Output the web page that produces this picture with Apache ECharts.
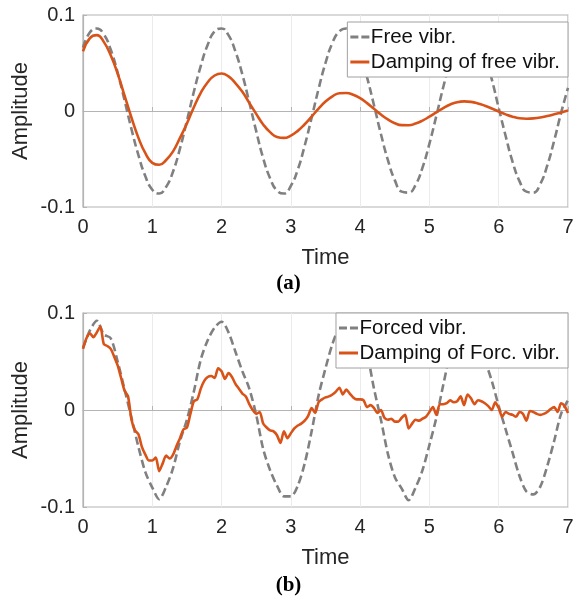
<!DOCTYPE html>
<html>
<head>
<meta charset="utf-8">
<script src="https://cdn.jsdelivr.net/npm/echarts@6/dist/echarts.min.js"></script>
<style>
html,body{margin:0;padding:0;background:#fff;}
#chart{width:577px;height:600px;}
</style>
</head>
<body>
<div id="chart"></div>
<script>
// ---- data ----
const seriesNamesA = ['Free vibr.', 'Damping of free vibr.'];
const seriesNamesB = ['Forced vibr.', 'Damping of Forc. vibr.'];
const xTickLabels = ['0','1','2','3','4','5','6','7'];
const yTickLabels = ['-0.1','0','0.1'];

// (a) sampled every 0.1 time unit, t = 0 ... 7
const stepA = 0.1;
const freeVibr = [
  0.066, 0.082, 0.086, 0.080, 0.064, 0.040, 0.011, -0.019, -0.046, -0.068,
  -0.082, -0.086, -0.079, -0.063, -0.039, -0.010, 0.020, 0.047, 0.069, 0.083,
  0.086, 0.079, 0.062, 0.038, 0.009, -0.021, -0.049, -0.070, -0.083, -0.086,
  -0.078, -0.061, -0.036, -0.007, 0.023, 0.050, 0.071, 0.083, 0.086, 0.077,
  0.060, 0.035, 0.006, -0.024, -0.051, -0.072, -0.084, -0.085, -0.077, -0.059,
  -0.034, -0.005, 0.025, 0.052, 0.072, 0.084, 0.085, 0.076, 0.058, 0.033,
  0.003, -0.026, -0.053, -0.073, -0.084, -0.085, -0.076, -0.057, -0.031, -0.002,
  0.024
];
const dampFree = [
  0.062, 0.076, 0.079, 0.072, 0.058, 0.039, 0.016, -0.007, -0.028, -0.044,
  -0.054, -0.056, -0.051, -0.042, -0.028, -0.013, 0.004, 0.019, 0.030, 0.037,
  0.039, 0.036, 0.029, 0.020, 0.0085, -0.003, -0.014, -0.022, -0.027, -0.028,
  -0.0256, -0.0207, -0.0138, -0.0058, 0.0025, 0.0098, 0.0153, 0.0185, 0.0188, 0.017,
  0.0133, 0.0082, 0.0023, -0.0036, -0.0088, -0.0127, -0.0147, -0.0148, -0.0131, -0.010,
  -0.0059, -0.0014, 0.0031, 0.0068, 0.0092, 0.010, 0.0095, 0.0079, 0.0055, 0.0026,
  -0.0006, -0.0035, -0.0059, -0.0075, -0.008, -0.0077, -0.0068, -0.0053, -0.0035, -0.0015,
  0.0005
];

// (b) forced vibration sampled every 0.1, damping sampled every 0.05
const stepB1 = 0.1;
const forcedVibr = [
  0.064, 0.082, 0.092, 0.078, 0.074, 0.050, 0.021, -0.008, -0.038, -0.064,
  -0.080, -0.092, -0.079, -0.060, -0.032, -0.010, 0.019, 0.052, 0.072, 0.085,
  0.091, 0.080, 0.060, 0.040, 0.022, -0.005, -0.040, -0.062, -0.078, -0.089,
  -0.089, -0.078, -0.055, -0.022, 0.015, 0.043, 0.068, 0.085, 0.092, 0.090,
  0.078, 0.058, 0.022, -0.010, -0.045, -0.069, -0.081, -0.093, -0.080, -0.062,
  -0.036, -0.008, 0.026, 0.058, 0.078, 0.090, 0.090, 0.078, 0.052, 0.030,
  0.004, -0.020, -0.044, -0.068, -0.084, -0.087, -0.079, -0.058, -0.032, -0.004,
  0.010
];
const stepB2 = 0.05;
const dampForced = [
  0.063, 0.074, 0.079, 0.075, 0.080, 0.086, 0.068, 0.066, 0.063, 0.055,
  0.046, 0.033, 0.020, 0.014, -0.010, -0.021, -0.025, -0.038, -0.046, -0.052,
  -0.052, -0.049, -0.063, -0.055, -0.047, -0.050, -0.046, -0.037, -0.029, -0.020,
  -0.018, -0.004, 0.009, 0.011, 0.022, 0.030, 0.034, 0.035, 0.033, 0.043,
  0.040, 0.032, 0.038, 0.034, 0.027, 0.022, 0.017, 0.014, 0.006, 0.000,
  -0.004, -0.002, -0.014, -0.018, -0.021, -0.022, -0.026, -0.034, -0.022, -0.029,
  -0.024, -0.019, -0.016, -0.014, -0.011, -0.006, 0.002, -0.003, 0.008, 0.011,
  0.013, 0.014, 0.016, 0.019, 0.023, 0.016, 0.021, 0.017, 0.013, 0.011,
  0.011, 0.010, 0.003, 0.005, 0.002, -0.003, 0.000, -0.008, -0.010, -0.009,
  -0.012, -0.012, -0.008, -0.005, -0.019, -0.014, -0.010, -0.011, -0.009, -0.007,
  -0.002, 0.003, -0.005, 0.006, 0.006, 0.007, 0.010, 0.008, 0.009, 0.014,
  0.005, 0.016, 0.012, 0.006, 0.010, 0.009, 0.007, 0.004, 0.000, 0.008,
  0.002, -0.007, -0.002, -0.004, -0.005, -0.007, -0.002, -0.004, -0.011, -0.001,
  -0.002, -0.004, -0.005, -0.004, -0.002, 0.001, 0.003, -0.002, 0.007, 0.004,
  -0.003
];

// ---- build ----
function pairs(arr, step){ return arr.map((v,i)=>[+(i*step).toFixed(3), v]); }

const GRAY = '#808080', ORANGE = '#D95319', AXIS = '#b4b4b4', TXT = '#262626';
const FONT = 'Liberation Sans, Arial, sans-serif';
const ICON_DASH = 'path://M0,0h8v3h-8zM11,0h8v3h-8z';
const ICON_SOLID = 'path://M0,0h19v3h-19z';

function xAx(gi){
  return {
    type:'value', gridIndex:gi, min:0, max:7, interval:1,
    name:'Time', nameLocation:'middle', nameGap:40,
    nameTextStyle:{fontSize:22, color:TXT, fontFamily:FONT},
    axisLine:{show:true, lineStyle:{color:AXIS, width:1.2}},
    axisTick:{show:true, inside:true, length:4, lineStyle:{color:AXIS}},
    axisLabel:{fontSize:20, color:TXT, fontFamily:FONT, margin:10,
      formatter:(v)=>xTickLabels[Math.round(v)]},
    splitLine:{show:true, lineStyle:{color:'#ebebeb', width:1}}
  };
}
function yAx(gi){
  return {
    type:'value', gridIndex:gi, min:-0.1, max:0.1, interval:0.1,
    name:'Amplitude', nameLocation:'middle', nameGap:51, nameRotate:90,
    nameMoveOverlap:false,
    nameTextStyle:{fontSize:22, color:TXT, fontFamily:FONT},
    axisLine:{show:true, lineStyle:{color:AXIS, width:1.2}},
    axisTick:{show:true, inside:true, length:4, lineStyle:{color:AXIS}},
    axisLabel:{fontSize:20, color:TXT, fontFamily:FONT, margin:8,
      formatter:(v)=>{ const r=Math.round(v*10); return yTickLabels[r+1]; }},
    splitLine:{show:false}
  };
}
function legend(names, top){
  return {
    data:[{name:names[0], icon:ICON_DASH}, {name:names[1], icon:ICON_SOLID}],
    orient:'vertical', right:9, top:top,
    backgroundColor:'#fff', borderColor:'#a0a0a0', borderWidth:1,
    padding:[4,8,4,3], itemGap:3, itemWidth:20, itemHeight:3,
    textStyle:{fontSize:20.5, color:'#111', fontFamily:FONT, padding:[0,0,0,-4], lineHeight:22},
    selectedMode:false
  };
}

const option = {
  animation:false,
  backgroundColor:'#fff',
  grid:[
    {left:83, top:15, width:485, height:192, show:true, borderColor:AXIS, borderWidth:1.2, containLabel:false},
    {left:83, top:313, width:485, height:194, show:true, borderColor:AXIS, borderWidth:1.2, containLabel:false}
  ],
  xAxis:[xAx(0), xAx(1)],
  yAxis:[yAx(0), yAx(1)],
  legend:[legend(seriesNamesA, 22), legend(seriesNamesB, 313)],
  series:[
    {name:seriesNamesA[0], type:'line', xAxisIndex:0, yAxisIndex:0, data:pairs(freeVibr, stepA),
     smooth:true, showSymbol:false, symbol:'none', lineStyle:{color:GRAY, width:2.6, type:[8,4]}, itemStyle:{color:GRAY}, z:2},
    {name:seriesNamesA[1], type:'line', xAxisIndex:0, yAxisIndex:0, data:pairs(dampFree, stepA),
     smooth:true, showSymbol:false, symbol:'none', lineStyle:{color:ORANGE, width:2.6}, itemStyle:{color:ORANGE}, z:3},
    {name:seriesNamesB[0], type:'line', xAxisIndex:1, yAxisIndex:1, data:pairs(forcedVibr, stepB1),
     smooth:0.3, showSymbol:false, symbol:'none', lineStyle:{color:GRAY, width:2.6, type:[8,4]}, itemStyle:{color:GRAY}, z:2},
    {name:seriesNamesB[1], type:'line', xAxisIndex:1, yAxisIndex:1, data:pairs(dampForced, stepB2),
     smooth:0.25, showSymbol:false, symbol:'none', lineStyle:{color:ORANGE, width:2.6}, itemStyle:{color:ORANGE}, z:3}
  ],
  graphic:[
    {type:'text', left:'center', top:273, style:{text:'(a)', font:'bold 21px "Liberation Serif", "Times New Roman", serif', fill:'#000'}},
    {type:'text', left:'center', top:575, style:{text:'(b)', font:'bold 21px "Liberation Serif", "Times New Roman", serif', fill:'#000'}}
  ]
};

const chart = echarts.init(document.getElementById('chart'), null, {renderer:'canvas'});
chart.setOption(option);
</script>
</body>
</html>
